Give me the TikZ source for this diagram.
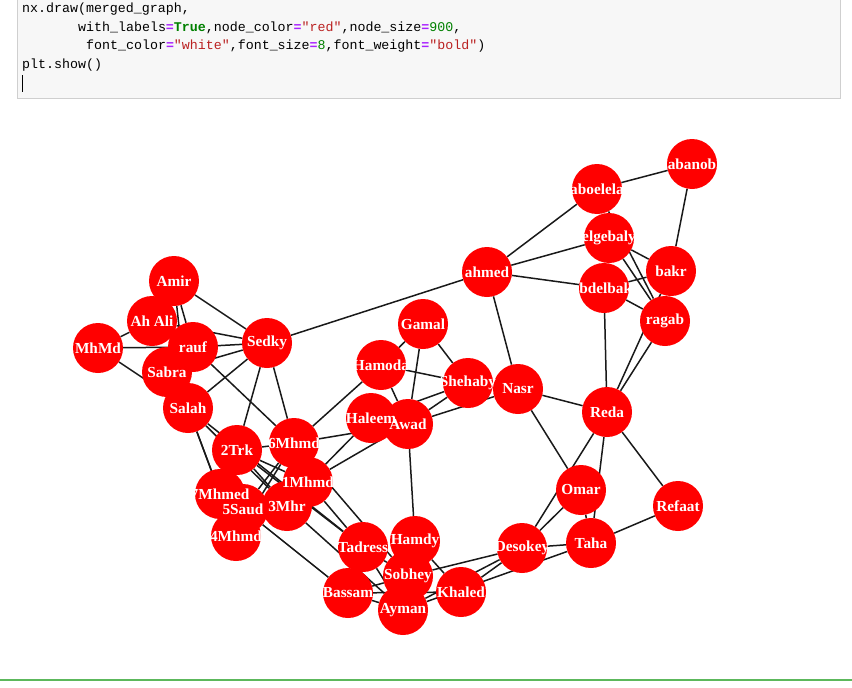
\documentclass[tikz,border=0pt]{standalone}
\usepackage{fontspec}
\setmainfont{Liberation Serif}
\setmonofont{Liberation Mono}
\usetikzlibrary{backgrounds}
\definecolor{eqc}{HTML}{AA22FF}
\definecolor{strc}{HTML}{BA2121}
\definecolor{kwc}{HTML}{008000}
\definecolor{numc}{HTML}{008000}
\definecolor{cellbg}{HTML}{F7F7F7}
\definecolor{cellbd}{HTML}{CFCFCF}
\definecolor{sepgreen}{HTML}{5CB85C}
\newcommand{\eqs}{\textcolor{eqc}{\textbf{=}}}
\newcommand{\sqs}[1]{\textcolor{strc}{"#1"}}
\tikzset{
  vtx/.style={circle, fill=red, draw=none, minimum size=50pt, inner sep=0pt},
  lbl/.style={text=white, font=\fontsize{15.3}{17}\selectfont\bfseries, inner sep=0pt},
  edge/.style={draw=black!90, line width=1.5pt},
  codeline/.style={anchor=base west, inner sep=0pt, font=\ttfamily\fontsize{13.3}{16}\selectfont}
}
\begin{document}
\begin{tikzpicture}[x=1pt,y=-1pt]
\useasboundingbox (0,0) rectangle (852,688);
% code cell
\fill[cellbg] (17.5,0) rectangle (840,98.5);
\draw[cellbd, line width=1pt] (17.5,0) -- (17.5,98.5) -- (840,98.5) -- (840,0);
\node[codeline] (c1) at (22,12.5) {nx.draw(merged\_graph,};
\node[codeline] (c2) at (78,31) {with\_labels\eqs\textcolor{kwc}{\textbf{True}},node\_color\eqs\sqs{red},node\_size\eqs\textcolor{numc}{900},};
\node[codeline] (c3) at (86,49.5) {font\_color\eqs\sqs{white},font\_size\eqs\textcolor{numc}{8},font\_weight\eqs\sqs{bold})};
\node[codeline] (c4) at (22,68) {plt.show()};
\coordinate (curA) at (22,75);
\coordinate (curB) at (22,92);
\draw[black, line width=1pt] (curA) -- (curB);
% separator
\coordinate (sepA) at (0,680);
\coordinate (sepB) at (852,680);
\draw[sepgreen, line width=1.2pt] (sepA) -- (sepB);
% vertices
\node[vtx] (abanob) at (692,164) {};
\node[vtx] (aboelela) at (597,189) {};
\node[vtx] (elgebaly) at (609,238) {};
\node[vtx] (ahmed) at (487,272) {};
\node[vtx] (abdelbaki) at (604,288) {};
\node[vtx] (bakr) at (671,271) {};
\node[vtx] (ragab) at (665,321) {};
\node[vtx] (Amir) at (174,281) {};
\node[vtx] (AhAli) at (152,321) {};
\node[vtx] (MhMd) at (98,348) {};
\node[vtx] (rauf) at (193,347) {};
\node[vtx] (Sabra) at (167,372) {};
\node[vtx] (Salah) at (188,408) {};
\node[vtx] (Sedky) at (267,343) {};
\node[vtx] (Gamal) at (423,324) {};
\node[vtx] (Hamoda) at (381,365) {};
\node[vtx] (Shehaby) at (468,383) {};
\node[vtx] (Nasr) at (518,389) {};
\node[vtx] (Haleem) at (371,418) {};
\node[vtx] (Awad) at (408,424) {};
\node[vtx] (Reda) at (607,412) {};
\node[vtx] (TwoTrk) at (237,450) {};
\node[vtx] (SixMhmd) at (294,443) {};
\node[vtx] (OneMhmd) at (308,482) {};
\node[vtx] (SevenMhmed) at (220,494) {};
\node[vtx] (FiveSaud) at (243,509) {};
\node[vtx] (ThreeMhr) at (287,506) {};
\node[vtx] (FourMhmd) at (236,536) {};
\node[vtx] (Omar) at (581,490) {};
\node[vtx] (Refaat) at (678,506) {};
\node[vtx] (Taha) at (591,543) {};
\node[vtx] (Desokey) at (522,548) {};
\node[vtx] (Tadress) at (363,547) {};
\node[vtx] (Hamdy) at (415,541) {};
\node[vtx] (Sobhey) at (408,576) {};
\node[vtx] (Bassam) at (348,593) {};
\node[vtx] (Khaled) at (461,592) {};
\node[vtx] (Ayman) at (403,610) {};
% edges
\begin{scope}[on background layer]
\foreach \a/\b in {abanob/aboelela, abanob/bakr, aboelela/ahmed, elgebaly/ahmed, ahmed/abdelbaki,
  ahmed/Sedky, ahmed/Nasr, elgebaly/bakr, elgebaly/ragab, aboelela/ragab, abdelbaki/bakr,
  abdelbaki/ragab, abdelbaki/Reda, Reda/ragab, Reda/bakr, Nasr/Reda, Nasr/Omar, Reda/Refaat,
  Refaat/Taha, Taha/Reda, Omar/Taha, Desokey/Omar, Desokey/Reda, Desokey/Taha, Desokey/Sobhey,
  Desokey/Khaled, Desokey/Ayman, Taha/Ayman, Hamdy/Khaled, Bassam/Khaled, Bassam/Sobhey,
  Bassam/Ayman, Tadress/Sobhey, Tadress/Ayman, Awad/Hamdy, FiveSaud/Bassam, ThreeMhr/Ayman,
  OneMhmd/Tadress, SixMhmd/Sobhey, TwoTrk/Tadress, Salah/Tadress, Salah/ThreeMhr,
  Salah/SevenMhmed, Salah/FourMhmd, Salah/Sedky, Amir/Sedky, Amir/rauf, Amir/Salah,
  AhAli/MhMd, AhAli/Sedky, MhMd/rauf, rauf/Sedky, Sabra/Sedky, MhMd/Salah, rauf/SixMhmd,
  Sedky/TwoTrk, Sedky/SixMhmd, TwoTrk/SixMhmd, TwoTrk/OneMhmd, TwoTrk/ThreeMhr,
  SixMhmd/FiveSaud, SixMhmd/FourMhmd, SixMhmd/Hamoda, SixMhmd/Awad, OneMhmd/Haleem,
  OneMhmd/Awad, Hamoda/Gamal, Hamoda/Shehaby, Hamoda/Awad, Gamal/Awad, Gamal/Shehaby,
  Haleem/Shehaby, Awad/Shehaby, Awad/Nasr}
  \draw[edge] (\a) -- (\b);
\end{scope}
% labels
\foreach \n/\t in {abanob/abanob, aboelela/aboelela, elgebaly/elgebaly, ahmed/ahmed,
  abdelbaki/abdelbaki, bakr/bakr, ragab/ragab, Amir/Amir, AhAli/Ah Ali, MhMd/MhMd, rauf/rauf,
  Sabra/Sabra, Salah/Salah, Sedky/Sedky, Gamal/Gamal, Hamoda/Hamoda, Shehaby/Shehaby, Nasr/Nasr,
  Haleem/Haleem, Awad/Awad, Reda/Reda, TwoTrk/2Trk, SixMhmd/6Mhmd, OneMhmd/1Mhmd,
  SevenMhmed/7Mhmed, FiveSaud/5Saud, ThreeMhr/3Mhr, FourMhmd/4Mhmd, Omar/Omar, Refaat/Refaat,
  Taha/Taha, Desokey/Desokey, Tadress/Tadress, Hamdy/Hamdy, Sobhey/Sobhey, Bassam/Bassam,
  Khaled/Khaled, Ayman/Ayman}
  \node[lbl] (L\n) at (\n.center) {\t};
\end{tikzpicture}
\end{document}
